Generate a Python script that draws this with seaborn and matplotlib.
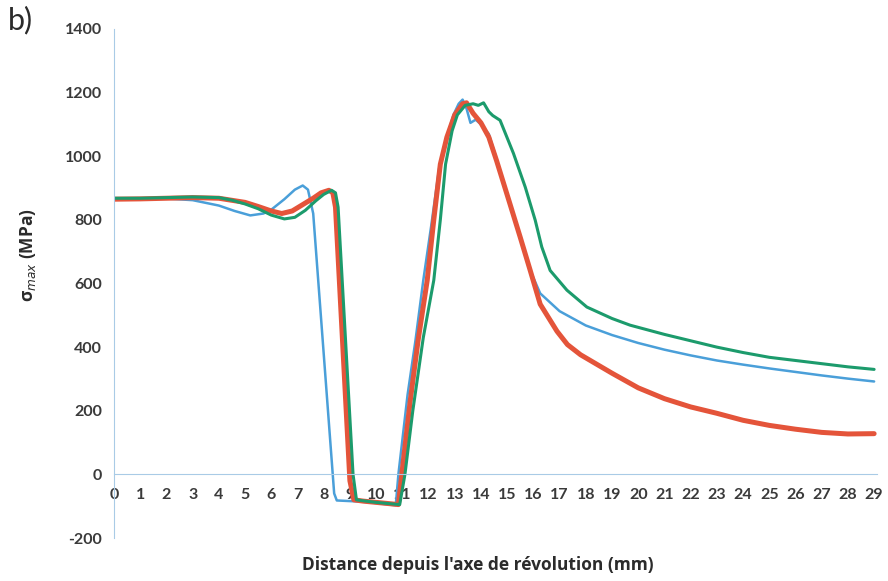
import matplotlib
matplotlib.use("Agg")
import matplotlib.pyplot as plt
import pandas as pd
import seaborn as sns

# distance from revolution axis (mm) and sigma_max (MPa)
blue_x = [0, 1, 2, 3, 4, 4.6, 5.2, 5.7, 6.0, 6.5, 6.9, 7.2, 7.4, 7.6, 8.4, 8.5,
          9.0, 9.5, 10.0, 10.5, 10.75, 10.85, 11.2, 11.5, 11.8, 12.1, 12.4, 12.7,
          12.95, 13.15, 13.3, 13.45, 13.6, 13.8, 14.0, 14.3, 14.6, 15.1, 15.5,
          15.88, 16.26, 17, 18, 19, 20, 21, 22, 23, 24, 25, 26, 27, 28, 29]
blue_y = [868, 868, 867, 862, 845, 828, 814, 820, 832, 865, 895, 908, 895, 820, -60, -82,
          -84, -86, -90, -95, -97, 0, 250, 420, 610, 780, 960, 1060,
          1130, 1165, 1178, 1150, 1105, 1115, 1100, 1070, 990, 852, 745,
          641, 569, 513, 468, 438, 413, 392, 374, 358, 345, 333, 322, 311, 301, 292]

red_x = [0, 1, 2, 3, 4, 5, 5.5, 6.0, 6.4, 6.8, 7.2, 7.6, 7.9, 8.2, 8.35, 8.45,
         9.0, 9.15, 9.5, 10.0, 10.5, 10.85, 10.98, 11.3, 11.6, 11.95, 12.2, 12.45,
         12.7, 13.0, 13.3, 13.45, 13.7, 14.0, 14.3, 14.6, 15.1, 15.5, 15.88, 16.26,
         16.9, 17.3, 17.8, 19, 20, 21, 22, 23, 24, 25, 26, 27, 28, 29]
red_y = [865, 866, 868, 870, 868, 855, 842, 828, 820, 828, 848, 868, 885, 893, 885, 840,
         -20, -80, -84, -88, -92, -95, 0, 230, 420, 610, 800, 975,
         1060, 1130, 1165, 1168, 1135, 1105, 1060, 985, 852, 745, 641, 535,
         450, 408, 376, 318, 272, 238, 212, 192, 170, 154, 142, 132, 127, 128]

green_x = [0, 1, 2, 3, 4, 4.5, 5.0, 5.5, 6.0, 6.5, 6.9, 7.3, 7.7, 8.0, 8.3, 8.45,
           8.55, 9.12, 9.25, 9.5, 10.0, 10.5, 10.9, 11.1, 11.4, 11.8, 12.2, 12.45,
           12.65, 12.9, 13.1, 13.4, 13.7, 13.9, 14.1, 14.3, 14.45, 14.73,
           15.24, 15.69, 16.07, 16.32, 16.64, 17.28, 18.04, 19, 19.69, 21, 22, 23,
           24, 25, 26, 27, 28, 29]
green_y = [868, 868, 870, 872, 870, 862, 850, 835, 815, 803, 808, 830, 860, 880, 893, 885,
           840, 0, -80, -83, -88, -92, -95, 0, 200, 430, 610, 800,
           975, 1080, 1130, 1160, 1165, 1160, 1168, 1140, 1128, 1113,
           1009, 903, 799, 715, 641, 579, 526, 490, 469, 440, 420, 400,
           383, 368, 358, 348, 338, 330]

x_ticks = list(range(0, 30))
y_ticks = list(range(-200, 1401, 200))

AXIS_COLOR = "#a9cbe6"
TEXT_COLOR = "#2b2b2b"

sns.set_style("white")
plt.rcParams["font.family"] = ["Lato", "DejaVu Sans"]
plt.rcParams["axes.unicode_minus"] = False

fig = plt.figure(figsize=(8.88, 5.81), dpi=100)
ax = fig.add_axes([114 / 888, 1 - 538 / 581, 763 / 888, 509 / 581])

series = [
    (blue_x, blue_y, "#4a9fd9", 1.8),
    (red_x, red_y, "#e4543a", 3.6),
    (green_x, green_y, "#1c9b6c", 2.2),
]
for xs, ys, col, lw in series:
    df = pd.DataFrame({"x": xs, "y": ys})
    sns.lineplot(data=df, x="x", y="y", ax=ax, color=col, linewidth=lw,
                 estimator=None, sort=False)

ax.set_xlim(0, 29.11)
ax.set_ylim(-200, 1400)
ax.set_xticks(x_ticks)
ax.set_yticks(y_ticks)

for s in ["top", "right"]:
    ax.spines[s].set_visible(False)
ax.spines["left"].set_color(AXIS_COLOR)
ax.spines["bottom"].set_color(AXIS_COLOR)
ax.spines["bottom"].set_position(("data", 0))
ax.tick_params(axis="both", colors=AXIS_COLOR, labelcolor="#3a3a3a",
               labelsize=11.5, direction="out", length=5, width=1)
ax.tick_params(axis="x", direction="inout", length=7, pad=6)
for lab in ax.get_xticklabels() + ax.get_yticklabels():
    lab.set_fontweight("bold")

label_font = ["Open Sans", "DejaVu Sans"]
ax.set_xlabel("Distance depuis l'axe de révolution (mm)", fontsize=12.5,
              fontweight="bold", color=TEXT_COLOR, family=label_font)
ax.xaxis.set_label_coords(0.477, -0.035)
ax.set_ylabel("σ$_{max}$ (MPa)", fontsize=12.5, fontweight="bold",
              color=TEXT_COLOR, family=label_font)
ax.yaxis.set_label_coords(-0.1, 0.556)

fig.text(8 / 888, 1 - 20 / 581, "b)", fontsize=22, color=TEXT_COLOR,
         ha="left", va="center")

plt.savefig("out.png", dpi=100)
plt.close()
